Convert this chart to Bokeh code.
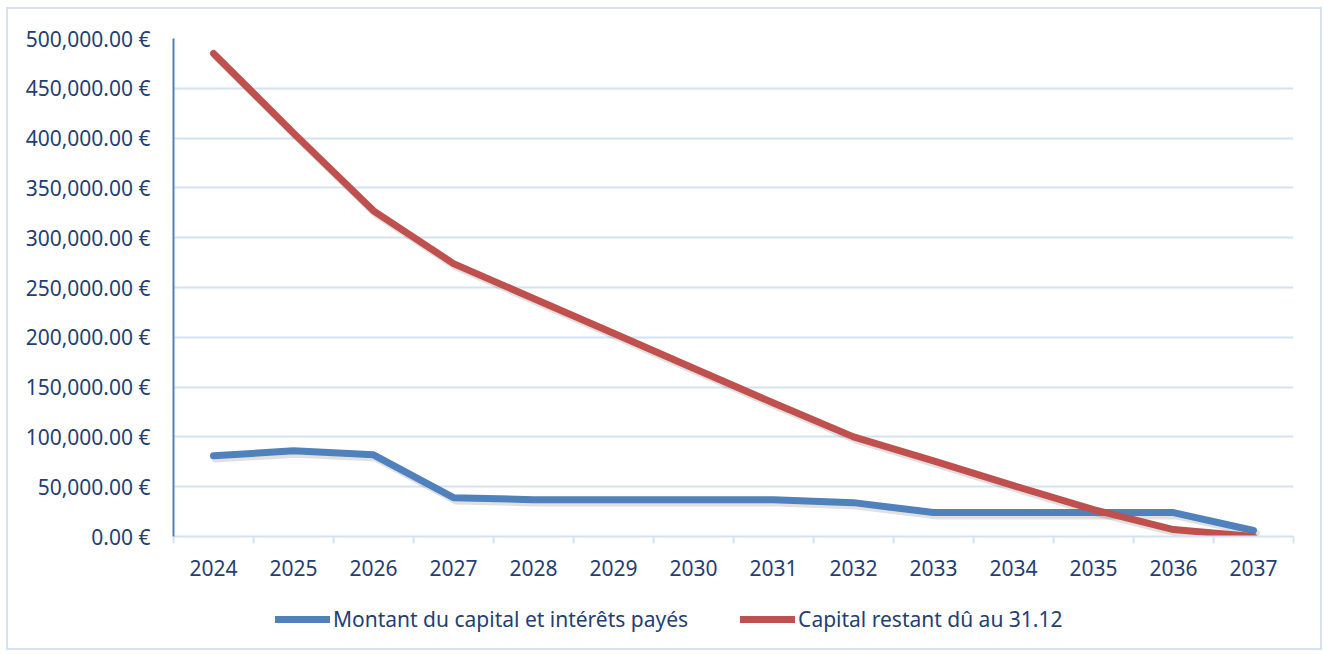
from bokeh.plotting import figure
from bokeh.layouts import column
from bokeh.models import FixedTicker, CustomJSTickFormatter, Legend, LegendItem, Range1d
from bokeh.embed import file_html
from bokeh.resources import INLINE

years = ["2024", "2025", "2026", "2027", "2028", "2029", "2030",
         "2031", "2032", "2033", "2034", "2035", "2036", "2037"]
paid = [81000, 86000, 82000, 39000, 37000, 37000, 37000,
        37000, 34000, 24000, 24000, 24000, 24000, 6000]
remaining = [485000, 405000, 327000, 274000, 239000, 204000, 169000,
             134000, 100000, 76000, 51000, 27000, 7000, 0]
y_ticks = [0, 50000, 100000, 150000, 200000, 250000, 300000,
           350000, 400000, 450000, 500000]
series_names = ["Montant du capital et intérêts payés", "Capital restant dû au 31.12"]

BLUE = "#4F81BD"
RED = "#C0504D"
TXT = "#243F73"
GRID = "#D6E2F2"
FONT = "Noto Sans"

xs = [i + 0.5 for i in range(len(years))]

p = figure(width=1312, height=587, output_backend="svg", toolbar_location=None,
           x_range=Range1d(0, len(years)), y_range=Range1d(0, 500000),
           min_border_left=165, min_border_right=27, min_border_top=29,
           min_border_bottom=60)
p.outline_line_color = None
p.background_fill_color = "white"
p.border_fill_color = "white"

# y axis
p.yaxis.ticker = FixedTicker(ticks=y_ticks)
p.yaxis.formatter = CustomJSTickFormatter(code="""
return tick.toLocaleString('en-US', {minimumFractionDigits: 2, maximumFractionDigits: 2}) + ' \u20ac';
""")
p.yaxis.axis_line_color = BLUE
p.yaxis.axis_line_width = 2
p.yaxis.major_tick_out = 0
p.yaxis.major_tick_in = 0
p.yaxis.minor_tick_out = 0
p.yaxis.minor_tick_in = 0
p.yaxis.major_label_standoff = 23
p.yaxis.major_label_text_font = FONT
p.yaxis.major_label_text_font_size = "21px"
p.yaxis.major_label_text_color = TXT

# x axis: labels at category centres, ticks at boundaries
p.xaxis.ticker = FixedTicker(ticks=xs, minor_ticks=list(range(len(years) + 1)))
p.xaxis.major_label_overrides = {x: y for x, y in zip(xs, years)}
p.xaxis.axis_line_color = GRID
p.xaxis.axis_line_width = 2
p.xaxis.major_tick_out = 0
p.xaxis.major_tick_in = 0
p.xaxis.minor_tick_out = 7
p.xaxis.minor_tick_in = 0
p.xaxis.minor_tick_line_color = GRID
p.xaxis.minor_tick_line_width = 2
p.xaxis.major_label_standoff = 16
p.xaxis.major_label_text_font = FONT
p.xaxis.major_label_text_font_size = "21px"
p.xaxis.major_label_text_color = TXT

p.xgrid.grid_line_color = None
p.ygrid.grid_line_color = GRID
p.ygrid.grid_line_width = 2
p.ygrid.ticker = FixedTicker(ticks=y_ticks)

# soft shadows
p.line([x + 0.03 for x in xs], [v - 2800 for v in paid], line_width=8,
       line_color="#000000", line_alpha=0.12, line_cap="round", line_join="round")
p.line([x + 0.03 for x in xs], [v - 2800 for v in remaining], line_width=8,
       line_color="#000000", line_alpha=0.12, line_cap="round", line_join="round")

p.line(xs, paid, line_width=7, line_color=BLUE, line_cap="round", line_join="round")
p.line(xs, remaining, line_width=7, line_color=RED, line_cap="round", line_join="round")

# legend strip (its renderers lie outside its visible range)
leg = figure(width=1312, height=52, output_backend="svg", toolbar_location=None,
             x_axis_type=None, y_axis_type=None,
             x_range=Range1d(0, len(years)), y_range=Range1d(-10, -5),
             min_border=0)
leg.outline_line_color = None
leg.xgrid.grid_line_color = None
leg.ygrid.grid_line_color = None
l1 = leg.line(xs, paid, line_width=7, line_color=BLUE, line_cap="round")
l2 = leg.line(xs, remaining, line_width=7, line_color=RED, line_cap="round")
legend = Legend(items=[LegendItem(label=series_names[0], renderers=[l1]),
                       LegendItem(label=series_names[1], renderers=[l2])],
                orientation="horizontal", location=(102, 15),
                glyph_width=55, glyph_height=20, spacing=52, label_standoff=3,
                label_text_font=FONT, label_text_font_size="21px",
                label_text_color=TXT, border_line_color=None,
                background_fill_alpha=0, margin=0, padding=10)
leg.add_layout(legend, "center")

layout = column(p, leg, spacing=0)
layout.margin = (7, 0, 0, 6)
layout.styles = {"border": "2px solid #D6E2F2"}

open("out.html", "w").write(file_html(layout, INLINE))
